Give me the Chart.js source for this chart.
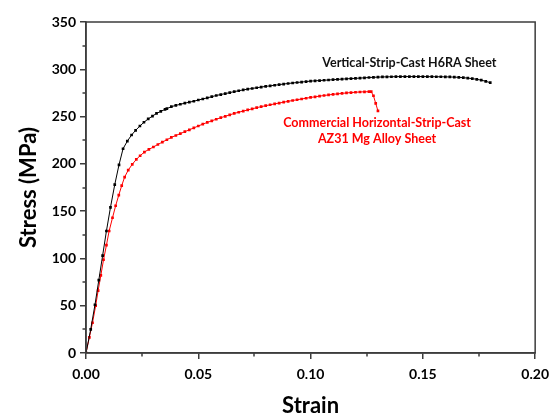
<!DOCTYPE html>
<html lang="en">
<head>
    <meta charset="UTF-8">
    <title>Stress-strain curves</title>
    <style>
        html, body { margin: 0; padding: 0; background: #fff; }
        #wrap { width: 556px; height: 419px; }
    </style>
</head>
<body>
    <div id="wrap"><canvas id="myChart" width="556" height="419"></canvas></div>

    <script src="https://cdn.jsdelivr.net/npm/chart.js"></script>
    <script>
    // Vertical-Strip-Cast H6RA sheet (black)
    const h6raStrain = [0, 0.0021, 0.004, 0.0057, 0.0074, 0.0091, 0.0109, 0.0128, 0.0147, 0.0165, 0.0184, 0.0203,
        0.0221, 0.024, 0.0258, 0.0277, 0.0296, 0.0314, 0.0333, 0.0352, 0.036, 0.038, 0.040, 0.042, 0.044, 0.046,
        0.048, 0.050, 0.052, 0.054, 0.056, 0.058, 0.060, 0.062, 0.064, 0.066, 0.068, 0.070, 0.072, 0.074, 0.076,
        0.078, 0.080, 0.082, 0.084, 0.086, 0.088, 0.090, 0.092, 0.094, 0.096, 0.098, 0.100, 0.102, 0.104, 0.106,
        0.108, 0.110, 0.112, 0.114, 0.116, 0.118, 0.120, 0.122, 0.124, 0.126, 0.128, 0.130, 0.132, 0.134, 0.136,
        0.138, 0.140, 0.142, 0.144, 0.146, 0.148, 0.150, 0.152, 0.154, 0.156, 0.158, 0.160, 0.162, 0.164, 0.166,
        0.168, 0.170, 0.172, 0.174, 0.176, 0.178, 0.180];
    const h6raStress = [0, 25, 51, 77, 103, 129, 154, 178, 199, 216, 224, 230.5,
        235.5, 240, 244, 247.5, 250.5, 253.3, 255.5, 257.6, 258.4, 260.5, 261.8, 263, 264.2, 265.2,
        266.2, 267.5, 268.6, 269.8, 271, 272.3, 273.3, 274.3, 275.3, 276.4, 277.3, 278.2, 279, 279.7, 280.5,
        281.2, 281.9, 282.5, 283.1, 283.8, 284.4, 285, 285.5, 286, 286.5, 287, 287.5, 287.8, 288.1, 288.4,
        288.7, 289, 289.3, 289.6, 289.9, 290.2, 290.4, 290.7, 291, 291.3, 291.5, 291.7, 291.9, 292, 292.1,
        292.2, 292.3, 292.3, 292.3, 292.3, 292.3, 292.3, 292.2, 292.2, 292.1, 292.1, 292, 291.9, 291.7, 291.5,
        291.1, 290.7, 290.1, 289.4, 288.5, 287.3, 285.8];

    // Commercial horizontal-strip-cast AZ31 sheet (red)
    const az31Strain = [0, 0.0015, 0.0029, 0.0043, 0.0054, 0.0066, 0.0078, 0.0091, 0.0103, 0.0118, 0.0132, 0.0146,
        0.0159, 0.0172, 0.0188, 0.0206, 0.0224, 0.0241, 0.026, 0.028, 0.030, 0.032, 0.034, 0.036, 0.038, 0.040,
        0.042, 0.044, 0.046, 0.048, 0.050, 0.052, 0.054, 0.056, 0.058, 0.060, 0.062, 0.064, 0.066, 0.068, 0.070,
        0.072, 0.074, 0.076, 0.078, 0.080, 0.082, 0.084, 0.086, 0.088, 0.090, 0.092, 0.094, 0.096, 0.098, 0.100,
        0.102, 0.104, 0.106, 0.108, 0.110, 0.112, 0.114, 0.116, 0.118, 0.120, 0.122, 0.124, 0.126, 0.127,
        0.128, 0.129, 0.130];
    const az31Stress = [0, 16.6, 32, 50, 66, 82, 98.6, 114, 129, 143, 155.7, 167,
        177, 186, 193.4, 199.5, 204.7, 208.6, 212.5, 215.3, 217.8, 220.5, 223, 225.5, 228, 230,
        232, 234, 236, 238, 240, 242, 243.8, 245.5, 247.2, 248.8, 250.3, 251.8, 253.3, 254.6, 255.8,
        257, 258.2, 259.4, 260.5, 261.5, 262.5, 263.4, 264.3, 265.2, 266.1, 267, 267.8, 268.6, 269.4, 270.2,
        270.9, 271.6, 272.3, 272.9, 273.5, 274, 274.5, 275, 275.4, 275.7, 276, 276.2, 276.3, 276.3,
        272, 264, 256];

    const xTickValues = [0, 0.05, 0.10, 0.15, 0.20];
    const yTickValues = [0, 50, 100, 150, 200, 250, 300, 350];
    const xMinorValues = [0.025, 0.075, 0.125, 0.175];
    const yMinorValues = [25, 75, 125, 175, 225, 275, 325];

    const seriesLabels = ['Vertical-Strip-Cast H6RA Sheet', 'Commercial Horizontal-Strip-Cast', 'AZ31 Mg Alloy Sheet'];

    const toPoints = (xs, ys) => xs.map((x, i) => ({ x: x, y: ys[i] }));
    const axisColor = '#3c3c3c';
    const font = 'Lato, "Open Sans", sans-serif';

    // box round the plot, short minor ticks and the curve labels
    const extras = {
        id: 'extras',
        afterDraw(chart) {
            const c = chart.ctx, a = chart.chartArea;
            const xs = chart.scales.x, ys = chart.scales.y;
            c.save();
            c.strokeStyle = axisColor;
            c.lineWidth = 1.5;
            c.strokeRect(a.left, a.top, a.right - a.left, a.bottom - a.top);
            c.beginPath();
            xMinorValues.forEach(v => {
                const px = Math.round(xs.getPixelForValue(v));
                c.moveTo(px, a.bottom);
                c.lineTo(px, a.bottom + 3.5);
            });
            yMinorValues.forEach(v => {
                const py = Math.round(ys.getPixelForValue(v));
                c.moveTo(a.left, py);
                c.lineTo(a.left - 3.5, py);
            });
            c.stroke();

            c.font = 'bold 12.5px ' + font;
            c.textAlign = 'center';
            c.textBaseline = 'middle';
            c.fillStyle = '#111';
            c.fillText(seriesLabels[0], xs.getPixelForValue(0.144), ys.getPixelForValue(306.5));
            c.fillStyle = '#ff0000';
            c.fillText(seriesLabels[1], xs.getPixelForValue(0.1296), ys.getPixelForValue(242.8));
            c.fillText(seriesLabels[2], xs.getPixelForValue(0.1296), ys.getPixelForValue(225.9));
            c.restore();
        }
    };

    new Chart(document.getElementById('myChart'), {
        type: 'line',
        data: {
            datasets: [{
                label: seriesLabels[0],
                data: toPoints(h6raStrain, h6raStress),
                borderColor: '#000',
                backgroundColor: '#000',
                borderWidth: 1,
                pointStyle: 'rect',
                pointRadius: 1.9,
                pointBorderWidth: 0
            }, {
                label: seriesLabels[1] + ' ' + seriesLabels[2],
                data: toPoints(az31Strain, az31Stress),
                borderColor: '#ff0000',
                backgroundColor: '#ff0000',
                borderWidth: 1,
                pointStyle: 'rect',
                pointRadius: 1.9,
                pointBorderWidth: 0
            }]
        },
        options: {
            responsive: false,
            animation: false,
            layout: { padding: { top: 22, right: 16, left: 0, bottom: 0 } },
            plugins: { legend: { display: false }, tooltip: { enabled: false } },
            scales: {
                x: {
                    type: 'linear',
                    min: 0, max: 0.2,
                    afterFit: s => { s.height = 66; },
                    afterBuildTicks: s => { s.ticks = xTickValues.map(v => ({ value: v })); },
                    ticks: {
                        color: '#000',
                        padding: 7,
                        maxRotation: 0,
                        font: { family: font, size: 14, weight: 'bold' },
                        callback: v => v.toFixed(2)
                    },
                    grid: { drawOnChartArea: false, tickLength: 6, color: axisColor, lineWidth: 1.5 },
                    border: { color: axisColor, width: 1.5 },
                    title: {
                        display: true, text: 'Strain', color: '#000',
                        font: { family: font, size: 22, weight: 'bold' },
                        padding: { top: 0, bottom: 0 }
                    }
                },
                y: {
                    type: 'linear',
                    min: 0, max: 350,
                    afterFit: s => { s.width = 86; },
                    afterBuildTicks: s => { s.ticks = yTickValues.map(v => ({ value: v })); },
                    ticks: {
                        color: '#000',
                        padding: 4,
                        font: { family: font, size: 14, weight: 'bold' }
                    },
                    grid: { drawOnChartArea: false, tickLength: 6, color: axisColor, lineWidth: 1.5 },
                    border: { color: axisColor, width: 1.5 },
                    title: {
                        display: true, text: 'Stress (MPa)', color: '#000',
                        font: { family: font, size: 22, weight: 'bold' },
                        padding: { top: 16, bottom: 0 }
                    }
                }
            }
        },
        plugins: [extras]
    });
    </script>
</body>
</html>
